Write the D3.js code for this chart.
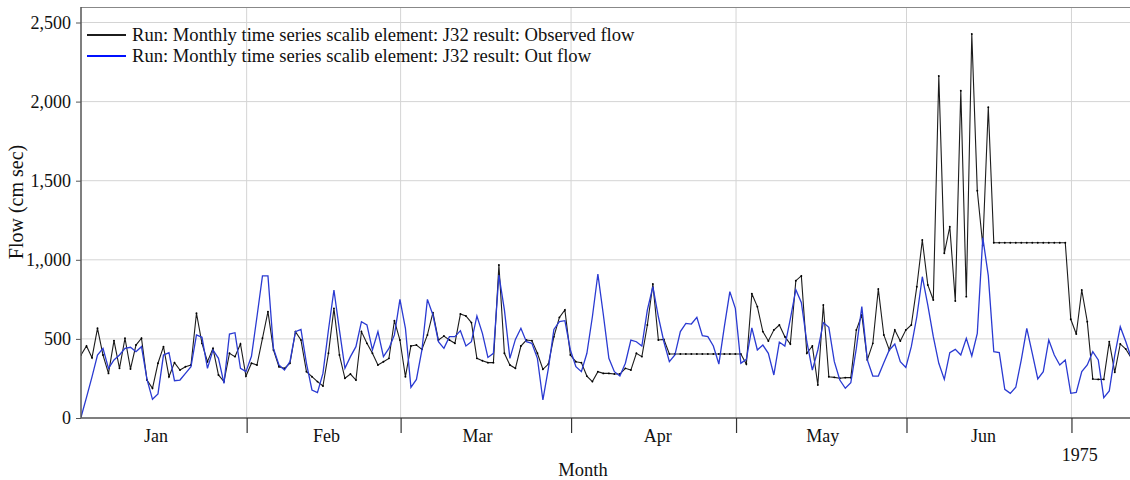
<!DOCTYPE html>
<html>
<head>
<meta charset="utf-8">
<script src="https://cdn.jsdelivr.net/npm/d3@7"></script>
<style>
  html, body { margin: 0; padding: 0; background: #fff; }
  svg { display: block; font-family: "Liberation Serif", "Times New Roman", serif; }
</style>
</head>
<body>
<svg id="chart" width="1130" height="480"></svg>
<script>
// ---------------- data ----------------
const seriesNames = [
  "Run: Monthly time series scalib element: J32 result: Observed flow",
  "Run: Monthly time series scalib element: J32 result: Out flow"
];
const firstDate = "1975-01-01T21:00:00Z";
const lastDate = "1975-07-11T15:30:00Z";

const observedFlow = [
  398, 455, 381, 567, 398, 282, 489, 314, 504, 310, 461, 504, 240, 188, 346, 451, 261, 350, 303, 324,
  335, 662, 472, 356, 440, 272, 230, 409, 388, 468, 265, 346, 335, 504, 672, 430, 324, 314, 346, 546,
  493, 293, 261, 230, 202, 409, 693, 398, 251, 278, 240, 546, 472, 409, 335,
  356, 377, 615, 493, 261, 455, 461, 434, 525, 666, 493, 518, 493, 472, 657, 645, 603, 377, 362, 350,
  350, 967, 409, 335, 314, 455, 493,
  489, 409, 308, 341, 514, 636, 683, 398, 356, 350, 265, 230, 293, 282, 282, 278, 278, 314, 303, 409,
  388, 588, 847, 493, 497,
  405, 405, 405, 405, 405, 405, 405, 405, 405, 405, 405, 405, 405, 405,
  341, 785, 704, 546, 487, 556, 588, 514, 468, 868, 898, 409, 455, 209, 714, 261, 257, 251, 255, 255,
  556, 651, 367, 472, 815, 525, 430, 556, 487, 556, 588, 830, 1125,
  841, 746, 2162, 1041, 1209, 740, 2069, 767, 2427, 1437, 1090, 1964,
  1108, 1108, 1108, 1108, 1108, 1108, 1108, 1108, 1108, 1108, 1108, 1108, 1108, 1108,
  624, 531, 809, 609, 247, 244, 244, 483, 289, 468, 436, 380
];

const outFlow = [
  5, 130, 260, 398, 440, 314, 367, 398, 440, 447, 419, 451, 244, 118, 152, 398, 413, 236, 240, 282,
  324, 525, 510, 314, 430, 377, 219, 531, 539, 314, 293, 390, 640, 898, 898, 440, 335, 303, 356, 546,
  560, 346, 177, 160, 282, 556, 809, 556, 314, 388, 451, 609, 588, 430, 546,
  388, 440, 525, 750, 567, 194, 244, 430, 750, 651, 482, 440, 514, 514, 552, 455, 482, 645, 535, 383,
  409, 904, 683, 377, 497, 567, 482,
  472, 377, 114, 314, 560, 609, 615, 430, 324, 293, 409, 640, 910, 651, 377, 293, 265, 346, 493, 482,
  455, 683, 830, 640, 482, 356, 398, 546,
  598, 594, 636, 520, 514, 455, 341, 577, 799, 693, 346, 371,
  570, 430, 461, 409, 272, 480, 455, 627, 811, 730, 482, 303, 430, 603, 573, 356, 240, 188, 223, 440,
  704, 367, 265, 265, 350, 430, 468, 356, 320, 451, 640, 893, 714, 514, 346, 244, 413, 434, 398, 504,
  392, 535,
  1140, 900,
  419, 413, 181, 156, 194, 367, 567, 409, 247, 293, 493, 398, 335, 367, 156, 162, 293, 335, 419, 367,
  129, 171, 398, 577, 483, 380
];

const monthLabels = ["Jan", "Feb", "Mar", "Apr", "May", "Jun"];
const monthLabelDates = ["1975-01-15T12:00:00Z", "1975-02-15T12:00:00Z", "1975-03-15T00:00:00Z",
                         "1975-04-16T18:00:00Z", "1975-05-16T18:00:00Z", "1975-06-15T00:00:00Z"];
const monthBoundaryDates = ["1975-02-01", "1975-03-01", "1975-04-01", "1975-05-01", "1975-06-01", "1975-07-01"];
const yearLabel = "1975";
const yearLabelDate = "1975-07-02T12:00:00Z";

const yTickValues = [0, 500, 1000, 1500, 2000, 2500];
const yTickLabels = ["0", "500", "1,,000", "1,500", "2,000", "2,500"];
const yMax = 2598;
const xTitle = "Month";
const yTitle = "Flow (cm sec)";

// ---------------- layout ----------------
(function draw() {
  const svg = d3.select("#chart");
  const pLeft = 81, pRight = 1130, pTop = 7, pBottom = 418;
  const start = new Date(firstDate);
  const dates = observedFlow.map((_, i) => d3.utcDay.offset(start, i));

  const x = d3.scaleUtc().domain([start, new Date(lastDate)]).range([pLeft, pRight]);
  const y = d3.scaleLinear().domain([0, yMax]).range([pBottom, pTop]);

  const gridColor = "#d4d4d4";
  const axisColor = "#555";
  const blue = "#2a3ad2";
  const black = "#1c1c1c";
  const font = "Liberation Serif";

  svg.append("defs").append("clipPath").attr("id", "plotclip")
    .append("rect").attr("x", pLeft).attr("y", pTop).attr("width", pRight - pLeft).attr("height", pBottom - pTop);

  // gridlines
  svg.append("g").selectAll("line").data(yTickValues.filter(v => v > 0)).join("line")
    .attr("x1", pLeft).attr("x2", pRight).attr("y1", d => y(d)).attr("y2", d => y(d))
    .attr("stroke", gridColor).attr("stroke-width", 1);
  svg.append("g").selectAll("line").data(monthBoundaryDates.map(d => new Date(d))).join("line")
    .attr("x1", d => x(d)).attr("x2", d => x(d)).attr("y1", pTop).attr("y2", pBottom)
    .attr("stroke", gridColor).attr("stroke-width", 1);

  // top border
  svg.append("line").attr("x1", pLeft).attr("x2", pRight).attr("y1", pTop + 0.5).attr("y2", pTop + 0.5)
    .attr("stroke", "#888").attr("stroke-width", 1.2);

  // lines
  const lineGen = d3.line().x((d, i) => x(dates[i])).y(d => y(d));
  const plot = svg.append("g").attr("clip-path", "url(#plotclip)");

  plot.append("path").datum(observedFlow)
    .attr("d", lineGen).attr("fill", "none").attr("stroke", black).attr("stroke-width", 1.1);
  plot.append("g").selectAll("circle").data(observedFlow).join("circle")
    .attr("cx", (d, i) => x(dates[i])).attr("cy", d => y(d)).attr("r", 0.95).attr("fill", "#000");
  plot.append("path").datum(outFlow)
    .attr("d", lineGen).attr("fill", "none").attr("stroke", blue).attr("stroke-width", 1.3);

  // y axis
  const yAxis = d3.axisLeft(y).tickValues(yTickValues).tickSize(5).tickPadding(5)
    .tickFormat((d, i) => yTickLabels[i]);
  const gy = svg.append("g").attr("transform", `translate(${pLeft},0)`).call(yAxis);
  gy.attr("font-family", font);
  gy.select(".domain").remove();
  gy.selectAll(".tick line").attr("stroke", axisColor);
  gy.selectAll(".tick text").attr("font-size", 18).attr("fill", "#111");
  svg.append("line").attr("x1", pLeft).attr("x2", pLeft).attr("y1", pTop).attr("y2", pBottom)
    .attr("stroke", axisColor).attr("stroke-width", 1.5);

  // x axis
  svg.append("line").attr("x1", pLeft).attr("x2", pRight).attr("y1", pBottom).attr("y2", pBottom)
    .attr("stroke", axisColor).attr("stroke-width", 1.5);
  const xAxis = d3.axisBottom(x).tickValues(monthBoundaryDates.map(d => new Date(d))).tickSize(15).tickFormat("");
  const gx = svg.append("g").attr("transform", `translate(0,${pBottom})`).call(xAxis);
  gx.select(".domain").remove();
  gx.selectAll(".tick line").attr("stroke", "#333").attr("stroke-width", 1.2);

  svg.append("g").selectAll("text").data(monthLabels).join("text")
    .attr("x", (d, i) => x(new Date(monthLabelDates[i]))).attr("y", 442)
    .attr("text-anchor", "middle").attr("font-size", 18).attr("font-family", font)
    .attr("fill", "#111").text(d => d);
  svg.append("text").attr("x", x(new Date(yearLabelDate))).attr("y", 461)
    .attr("text-anchor", "middle").attr("font-size", 18).attr("font-family", font)
    .attr("fill", "#111").text(yearLabel);

  // titles
  svg.append("text").attr("x", 583).attr("y", 476).attr("text-anchor", "middle")
    .attr("font-size", 18.5).attr("font-family", font).attr("fill", "#111").text(xTitle);
  svg.append("text").attr("transform", "translate(23,202) rotate(-90)").attr("text-anchor", "middle")
    .attr("font-size", 20).attr("font-family", font).attr("fill", "#111").text(yTitle);

  // legend
  const legend = svg.append("g");
  const legendColors = [black, "#0010ff"];
  seriesNames.forEach((name, i) => {
    const ly = 35 + i * 21;
    legend.append("line").attr("x1", 87).attr("x2", 126).attr("y1", ly).attr("y2", ly)
      .attr("stroke", legendColors[i]).attr("stroke-width", 2);
    legend.append("text").attr("x", 132).attr("y", ly + 5.5).attr("font-size", 18.6)
      .attr("font-family", font).attr("fill", "#111").text(name);
  });
})();
</script>
</body>
</html>
